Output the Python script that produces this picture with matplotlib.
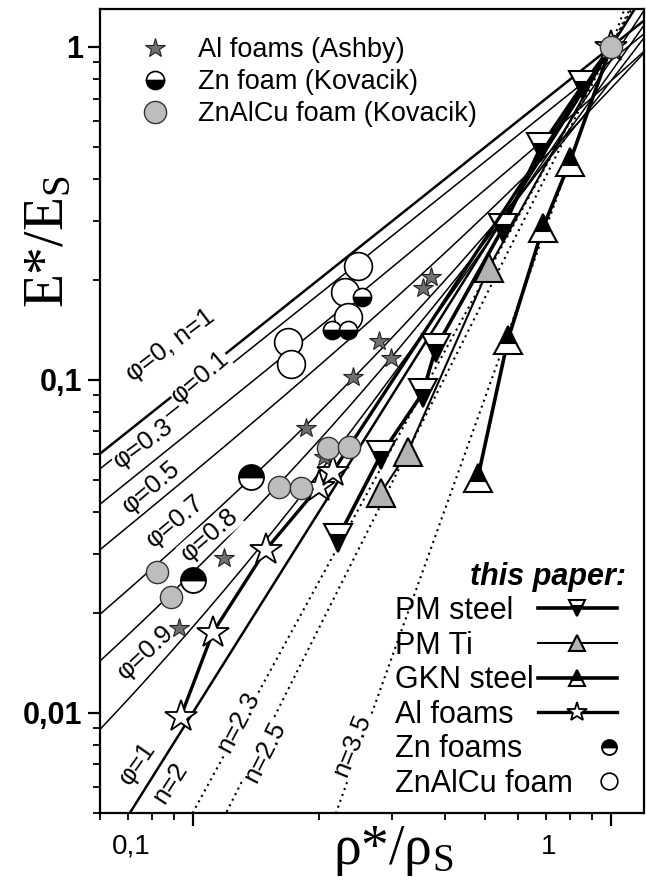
import numpy as np
import matplotlib
matplotlib.use('Agg')
import matplotlib.pyplot as plt
from matplotlib.transforms import ScaledTranslation
from matplotlib.ticker import FixedLocator, FixedFormatter, NullFormatter
from matplotlib.legend_handler import HandlerLine2D

plt.rcParams['font.family'] = ['Liberation Sans', 'DejaVu Sans']
plt.rcParams['mathtext.fontset'] = 'custom'
plt.rcParams['mathtext.rm'] = 'Liberation Serif'
plt.rcParams['mathtext.it'] = 'Liberation Serif:italic'

# ---------------- data ----------------
phi_values = [0.0, 0.1, 0.3, 0.5, 0.7, 0.8, 0.9, 1.0]
n_values = [2.3, 2.5, 3.5]

al_ashby_rho = [0.0926, 0.1186, 0.1864, 0.2058, 0.2415, 0.2786, 0.2977, 0.355, 0.371, 1.0]
al_ashby_E = [0.0180, 0.0292, 0.0718, 0.0587, 0.102, 0.131, 0.1165, 0.189, 0.204, 1.0]

zn_kov_rho = [0.215, 0.235, 0.2537]
zn_kov_E = [0.1413, 0.1413, 0.1775]

znalcu_kov_rho = [0.082, 0.0886, 0.1606, 0.1813, 0.2104, 0.236, 1.0]
znalcu_kov_E = [0.0265, 0.0223, 0.0477, 0.0474, 0.0625, 0.063, 1.0]

pm_steel_rho = [0.2223, 0.2818, 0.355, 0.3814, 0.552, 0.68, 0.857, 1.0]
pm_steel_E = [0.0335, 0.0595, 0.0914, 0.1248, 0.286, 0.501, 0.769, 1.0]

pm_ti_rho = [0.2818, 0.3268, 0.5106, 1.0]
pm_ti_E = [0.0458, 0.0608, 0.217, 1.0]

gkn_rho = [0.4806, 0.567, 0.6876, 0.798, 1.0]
gkn_E = [0.0508, 0.1318, 0.286, 0.452, 1.0]

al_paper_rho = [0.0936, 0.1116, 0.1496, 0.200, 0.2163, 1.0]
al_paper_E = [0.00973, 0.0174, 0.0309, 0.0477, 0.053, 1.0]

zn_paper_rho = [0.1, 0.1376]
zn_paper_E = [0.0251, 0.0511]

znalcu_paper_rho = [0.1687, 0.1715, 0.231, 0.235, 0.248]
znalcu_paper_E = [0.130, 0.1117, 0.1837, 0.1546, 0.22]

x_tick_values = [0.1, 1.0]
x_tick_labels = ['0,1', '1']
y_tick_values = [0.01, 0.1, 1.0]
y_tick_labels = ['0,01', '0,1', '1']

line_label_texts = ['φ=0, n=1', 'φ=0.1', 'φ=0.3', 'φ=0.5', 'φ=0.7', 'φ=0.8',
                    'φ=0.9', 'φ=1', 'n=2', 'n=2.3', 'n=2.5', 'n=3.5']


class HandlerMarkerRight(HandlerLine2D):
    """Legend handler that puts the single marker near the right end."""
    def create_artists(self, legend, orig_handle, xdescent, ydescent, width,
                       height, fontsize, trans):
        arts = super().create_artists(legend, orig_handle, xdescent, ydescent,
                                      width, height, fontsize, trans)
        for a in arts:
            xd = np.asarray(a.get_xdata(), dtype=float).copy()
            if len(xd) == 3:
                xd[2] = xd[2] - 0.25 * fontsize
                a.set_xdata(xd)
                a.set_markevery([2])
        return arts


# ---------------- figure ----------------
fig = plt.figure(figsize=(6.46, 8.89), dpi=100)
ax = fig.add_axes([100/646, 1-813/889, 544/646, 804/889])
ax.set_xscale('log')
ax.set_yscale('log')
ax.set_xlim(0.06, 1.2)
ax.set_ylim(0.005, 1.3)

# model curves (Gibson-Ashby with cell-edge fraction phi, and power laws n)
rho_grid = np.logspace(np.log10(0.06), np.log10(1.2), 400)
for phi in phi_values:
    E = phi**2 * rho_grid**2 + (1 - phi) * rho_grid
    lw = 1.8 if phi in (0.0, 1.0) else 1.1
    ax.plot(rho_grid, E, color='black', lw=lw, zorder=2)
for n in n_values:
    ax.plot(rho_grid, rho_grid**n, color='black', lw=1.5, ls=(0, (1, 2)), zorder=2)

# line labels (axes-fraction positions, rotations)
label_pos = [(0.1287, 0.582, 37), (0.1838, 0.542, 40), (0.079, 0.460, 36),
             (0.0938, 0.4055, 40), (0.1379, 0.363, 40), (0.2022, 0.3458, 41),
             (0.0827, 0.2002, 43), (0.068, 0.0622, 55), (0.1287, 0.0373, 57),
             (0.2537, 0.1132, 62), (0.3033, 0.0759, 63), (0.4632, 0.0846, 68)]
for txt, (lx, ly, rot) in zip(line_label_texts, label_pos):
    ax.text(lx, ly, txt, transform=ax.transAxes, rotation=rot, rotation_mode='anchor',
            ha='center', va='center', fontsize=18.5, zorder=3,
            bbox=dict(facecolor='white', edgecolor='none', pad=0.5))

# this paper series
h_pms, = ax.plot(pm_steel_rho, pm_steel_E, color='black', lw=2.6, marker='v', ms=20,
                 fillstyle='bottom', markerfacecolor='black', markerfacecoloralt='white',
                 markeredgecolor='black', mew=1.5,
                 markevery=list(range(len(pm_steel_rho) - 1)), zorder=5, label='PM steel')
h_pmt, = ax.plot(pm_ti_rho, pm_ti_E, color='black', lw=1.5, marker='^', ms=20,
                 markerfacecolor='#b3b3b3', markeredgecolor='black', mew=1.5,
                 markevery=list(range(len(pm_ti_rho) - 1)), zorder=5, label='PM Ti')
h_gkn, = ax.plot(gkn_rho, gkn_E, color='black', lw=2.6, marker='^', ms=20,
                 fillstyle='top', markerfacecolor='black', markerfacecoloralt='white',
                 markeredgecolor='black', mew=1.5,
                 markevery=list(range(len(gkn_rho) - 1)), zorder=5, label='GKN steel')
h_alp, = ax.plot(al_paper_rho, al_paper_E, color='black', lw=2.4, marker='*', ms=24,
                 markerfacecolor='white', markeredgecolor='black', mew=1.3, zorder=6,
                 label='Al foams')
h_znp, = ax.plot(zn_paper_rho, zn_paper_E, ls='none', marker='o', ms=18, fillstyle='top',
                 markerfacecolor='black', markerfacecoloralt='white',
                 markeredgecolor='black', mew=1.3, zorder=6, label='Zn foams')
h_zap, = ax.plot(znalcu_paper_rho, znalcu_paper_E, ls='none', marker='o', ms=20,
                 markerfacecolor='white', markeredgecolor='black', mew=1.2, zorder=4,
                 label='ZnAlCu foam')

# literature series
h_ashby, = ax.plot(al_ashby_rho, al_ashby_E, ls='none', marker='*', ms=15,
                   markerfacecolor='#707070', markeredgecolor='#222222', mew=0.8, zorder=7,
                   label='Al foams (Ashby)')
h_znk, = ax.plot(zn_kov_rho, zn_kov_E, ls='none', marker='o', ms=13, fillstyle='bottom',
                 markerfacecolor='black', markerfacecoloralt='white', markeredgecolor='black',
                 mew=1.2, zorder=7, label='Zn foam (Kovacik)')
h_znalk, = ax.plot(znalcu_kov_rho, znalcu_kov_E, ls='none', marker='o', ms=16,
                   markerfacecolor='#bdbdbd', markeredgecolor='#333333', mew=1.0, zorder=7,
                   label='ZnAlCu foam (Kovacik)')

# ticks
ax.xaxis.set_major_locator(FixedLocator(x_tick_values))
ax.xaxis.set_major_formatter(FixedFormatter(x_tick_labels))
ax.xaxis.set_minor_locator(FixedLocator([m * 10.0**e for e in (-2, -1, 0) for m in range(2, 10)]))
ax.xaxis.set_minor_formatter(NullFormatter())
ax.yaxis.set_major_locator(FixedLocator(y_tick_values))
ax.yaxis.set_major_formatter(FixedFormatter(y_tick_labels))
ax.yaxis.set_minor_locator(FixedLocator([m * 10.0**e for e in (-3, -2, -1, 0) for m in range(2, 10)]))
ax.yaxis.set_minor_formatter(NullFormatter())
ax.tick_params(which='major', direction='out', length=9, width=1.6, labelsize=20,
               top=False, right=False)
ax.tick_params(axis='y', which='major', labelsize=22)
ax.tick_params(which='minor', direction='out', length=5, width=1.3, top=False, right=False)
ax.tick_params(axis='x', which='major', pad=6)
for lbl in ax.get_yticklabels():
    lbl.set_fontweight('bold')
for t in ax.xaxis.get_major_ticks():
    t.label1.set_transform(t.label1.get_transform() +
                           ScaledTranslation(-0.62, 0, fig.dpi_scale_trans))
for s in ax.spines.values():
    s.set_linewidth(1.6)

ax.set_ylabel('E*/E$_{\\rm S}$', fontsize=40, family='Liberation Serif')
ax.yaxis.set_label_coords(-0.046, 0.71)
ax.set_xlabel('ρ*/ρ$_{\\rm S}$', fontsize=40, family='Liberation Serif')
ax.xaxis.set_label_coords(0.538, -0.014)

# legends
leg1 = ax.legend(handles=[h_ashby, h_znk, h_znalk], loc='upper left',
                 bbox_to_anchor=(0.076, 0.965), frameon=False, fontsize=19.5,
                 handlelength=1.0, handletextpad=1.1, labelspacing=0.22,
                 borderaxespad=0, borderpad=0)
ax.add_artist(leg1)

paper_handles = [h_pms, h_pmt, h_gkn, h_alp, h_znp, h_zap]
paper_labels = [h.get_label() for h in paper_handles]
hmap = {h_znp: HandlerMarkerRight(), h_zap: HandlerMarkerRight()}
common = dict(frameon=False, fontsize=22, markerscale=0.6, labelspacing=0.15,
              borderaxespad=0, borderpad=0, handler_map=hmap,
              title_fontproperties={'size': 22, 'weight': 'bold', 'style': 'italic'})

# handles column (right aligned) with the title
leg_h = ax.legend(paper_handles, [' '] * len(paper_handles), loc='lower right',
                  bbox_to_anchor=(0.966, 0.0174), markerfirst=True, handlelength=2.6,
                  handletextpad=0.0, title='this paper:', alignment='right', **common)
ax.add_artist(leg_h)

# labels column (left aligned), handles invisible
leg_t = ax.legend(paper_handles, paper_labels, loc='lower left',
                  bbox_to_anchor=(0.5423, 0.0174), markerfirst=True, handlelength=0.0,
                  handletextpad=0.0, title=' ', alignment='left', **common)
for h in leg_t.legend_handles:
    h.set_visible(False)

fig.savefig('out.png', dpi=100)
